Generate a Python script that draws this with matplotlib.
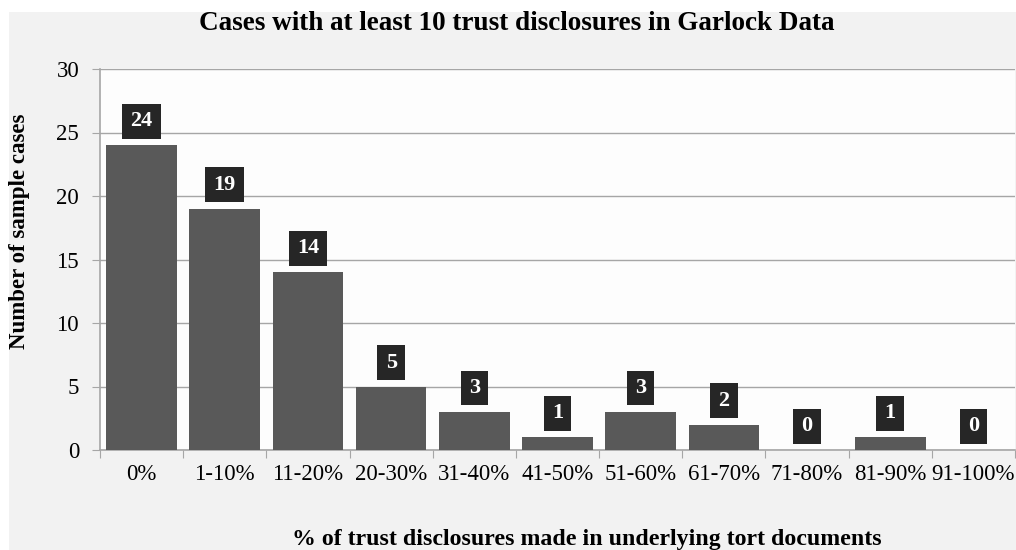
import matplotlib
matplotlib.use("Agg")
import matplotlib.pyplot as plt
from matplotlib.patches import Rectangle

categories = ["0%", "1-10%", "11-20%", "20-30%", "31-40%", "41-50%", "51-60%",
              "61-70%", "71-80%", "81-90%", "91-100%"]
counts = [24, 19, 14, 5, 3, 1, 3, 2, 0, 1, 0]

plt.rcParams['font.family'] = ['Liberation Serif', 'DejaVu Serif']

fig = plt.figure(figsize=(10.16, 5.5), dpi=100, facecolor='white')
fig.patches.append(Rectangle((9/1016, 0), 1 - 9/1016, 1 - 12/550, transform=fig.transFigure,
                             facecolor='#f2f2f2', edgecolor='none', zorder=-10))
ax = fig.add_axes([100/1016, 1 - 450/550, 915/1016, 381/550])
ax.set_facecolor('#fdfdfd')

x = list(range(len(categories)))
ax.bar(x, counts, width=0.85, color='#595959', zorder=3)
ax.set_xlim(-0.5, len(categories) - 0.5)
ax.set_ylim(0, 30)
ax.set_yticks(range(0, 31, 5))
ax.yaxis.grid(True, color='#a6a6a6', linewidth=1.0, zorder=0)
ax.set_axisbelow(True)

ax.set_xticks([i - 0.5 for i in range(len(categories) + 1)])
ax.set_xticklabels([])
ax.set_xticks(x, minor=True)
ax.set_xticklabels(categories, minor=True)
ax.tick_params(axis='x', which='major', length=6, color='#a6a6a6', direction='out')
ax.tick_params(axis='x', which='minor', length=0, pad=10, labelsize=16.5)
ax.tick_params(axis='y', length=6, color='#a6a6a6', labelsize=16.5, pad=9)

for s in ['top', 'right']:
    ax.spines[s].set_visible(False)
for s in ['left', 'bottom']:
    ax.spines[s].set_color('#a6a6a6')
    ax.spines[s].set_linewidth(1.2)

for xi, c in zip(x, counts):
    ax.annotate(str(c), xy=(xi, c), xytext=(0, 10), textcoords='offset points',
                ha='center', va='bottom', color='white', fontsize=16, fontweight='bold',
                bbox=dict(boxstyle='square,pad=0.37', fc='#262626', ec='none',
                          mutation_aspect=0.9), zorder=5)

fig.text(0.509, 1 - 23/550, "Cases with at least 10 trust disclosures in Garlock Data",
         ha='center', va='center', fontsize=19.5, fontweight='bold')
fig.text(20/1016, 1 - 231/550, "Number of sample cases", rotation=90,
         ha='center', va='center', fontsize=16.5, fontweight='bold')
fig.text(587/1016, 1 - 540/550, "% of trust disclosures made in underlying tort documents",
         ha='center', va='center', fontsize=17.2, fontweight='bold')

fig.savefig("out.png", dpi=100, facecolor=fig.get_facecolor())
